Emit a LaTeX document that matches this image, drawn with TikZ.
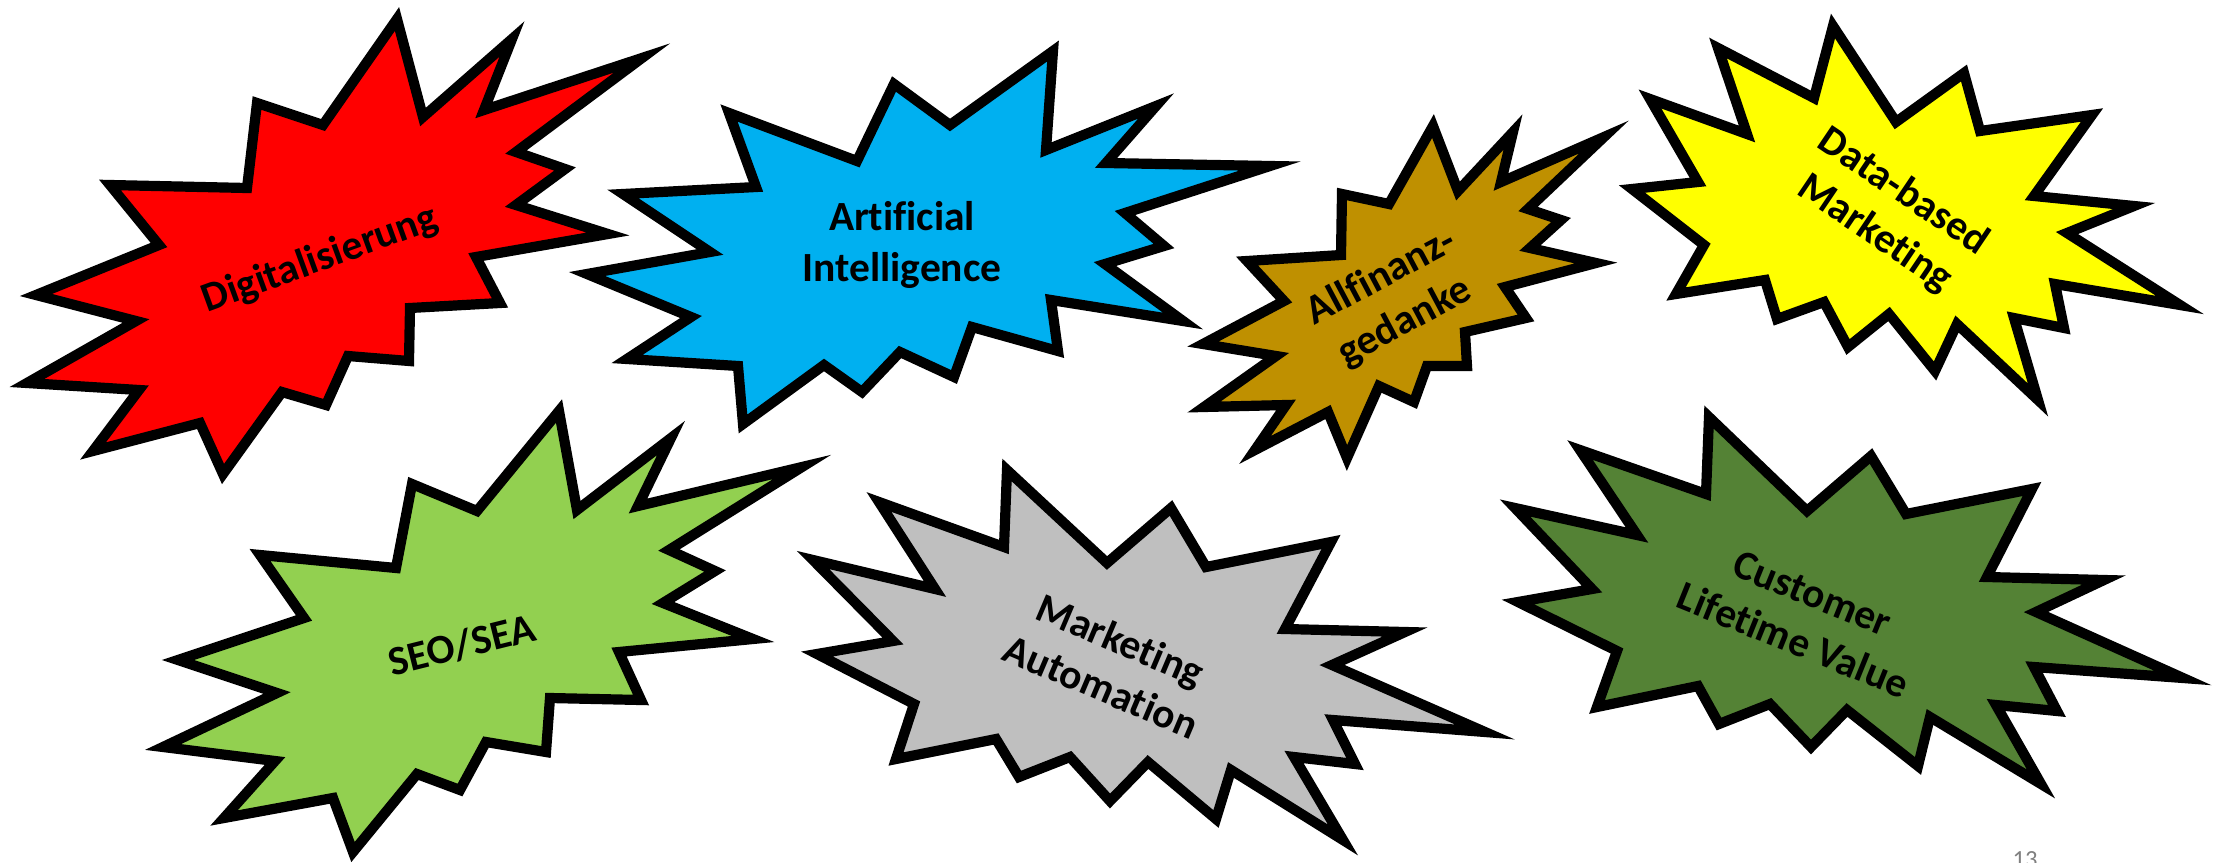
\documentclass[tikz,border=0pt]{standalone}
\usepackage{fontspec}
\setmainfont{Carlito}[Ligatures=NoCommon]
\usepackage{tikz}
\definecolor{burstred}{RGB}{255,0,0}
\definecolor{skyblue}{RGB}{0,176,240}
\definecolor{ochre}{RGB}{191,144,0}
\definecolor{lemon}{RGB}{255,255,0}
\definecolor{lightgreen}{RGB}{146,208,80}
\definecolor{silver}{RGB}{191,191,191}
\definecolor{darkgreen}{RGB}{84,130,53}
\tikzset{
    burst/.style = {draw=black, line width=2.9pt, line join=miter},
    buzz/.style = {font=\bfseries\fontsize{11.8}{14.4}\selectfont, align=center, inner sep=0pt}
}

\begin{document}
\begin{tikzpicture}[scale = 1, x=1.0cm, y=1.0cm]
\useasboundingbox (0,0) rectangle (22.13,8.62);

\draw [burst, fill=burstred] (3.97,8.43) -- (4.23,7.45) -- (5.12,8.23) -- (4.84,7.52) -- (6.42,8.04) -- (5.16,7.10) -- (5.65,6.93) -- (5.16,6.57) -- (6.08,6.28) -- (4.76,6.05) -- (5.00,5.59) -- (4.10,5.54) -- (4.09,5.01) -- (3.48,5.06) -- (3.26,4.57) -- (2.82,4.70) -- (2.23,3.88) -- (2.00,4.39) -- (0.93,4.11) -- (1.39,4.72) -- (0.27,4.79) -- (1.36,5.41) -- (0.36,5.67) -- (1.59,6.17) -- (1.10,6.77) -- (2.47,6.74) -- (2.57,7.59) -- (3.23,7.37) -- cycle;
\draw [burst, fill=skyblue] (10.53,8.11) -- (10.46,7.12) -- (11.56,7.56) -- (11.06,6.99) -- (12.70,6.96) -- (11.25,6.49) -- (11.64,6.16) -- (11.05,5.98) -- (11.83,5.41) -- (10.51,5.62) -- (10.58,5.11) -- (9.72,5.35) -- (9.54,4.85) -- (9.00,5.10) -- (8.62,4.70) -- (8.24,4.97) -- (7.43,4.38) -- (7.38,4.96) -- (6.27,5.03) -- (6.91,5.45) -- (5.87,5.88) -- (7.10,6.10) -- (6.23,6.68) -- (7.56,6.75) -- (7.29,7.49) -- (8.57,7.01) -- (8.94,7.78) -- (9.50,7.37) -- cycle;
\draw [burst, fill=ochre] (14.33,7.36) -- (14.58,6.71) -- (15.13,7.30) -- (15.01,6.80) -- (16.04,7.25) -- (15.28,6.53) -- (15.61,6.42) -- (15.30,6.14) -- (15.96,5.99) -- (15.05,5.75) -- (15.26,5.44) -- (14.65,5.30) -- (14.67,4.96) -- (14.27,4.96) -- (14.14,4.60) -- (13.79,4.76) -- (13.47,4.04) -- (13.28,4.50) -- (12.55,4.12) -- (12.86,4.57) -- (12.04,4.55) -- (12.76,5.06) -- (12.03,5.18) -- (12.84,5.61) -- (12.47,6.01) -- (13.41,6.07) -- (13.42,6.68) -- (13.89,6.58) -- cycle;
\draw [burst, fill=lemon] (18.33,8.36) -- (18.96,7.40) -- (19.64,7.89) -- (19.80,7.31) -- (20.92,7.47) -- (20.34,6.66) -- (21.34,6.56) -- (20.67,6.29) -- (21.80,5.57) -- (20.55,5.78) -- (20.64,5.34) -- (20.14,5.44) -- (20.38,4.62) -- (19.57,5.38) -- (19.35,4.91) -- (18.89,5.48) -- (18.48,5.15) -- (18.24,5.60) -- (17.77,5.43) -- (17.65,5.82) -- (16.76,5.68) -- (17.04,6.17) -- (16.32,6.73) -- (16.98,6.80) -- (16.50,7.63) -- (17.47,7.28) -- (17.18,8.14) -- (18.14,7.64) -- cycle;
\draw [burst, fill=lightgreen] (5.59,4.51) -- (5.77,3.52) -- (6.71,4.24) -- (6.38,3.56) -- (8.02,3.95) -- (6.69,3.12) -- (7.15,2.91) -- (6.63,2.59) -- (7.53,2.23) -- (6.19,2.10) -- (6.41,1.62) -- (5.50,1.64) -- (5.46,1.10) -- (4.86,1.20) -- (4.60,0.72) -- (4.17,0.88) -- (3.53,0.10) -- (3.33,0.64) -- (2.24,0.44) -- (2.75,1.01) -- (1.63,1.15) -- (2.77,1.69) -- (1.78,2.02) -- (3.04,2.44) -- (2.60,3.07) -- (3.96,2.94) -- (4.12,3.78) -- (4.77,3.51) -- cycle;
\draw [burst, fill=silver] (10.07,3.92) -- (11.07,2.99) -- (11.71,3.54) -- (12.06,2.95) -- (13.31,3.20) -- (12.85,2.33) -- (14.05,2.30) -- (13.32,1.97) -- (14.85,1.30) -- (13.33,1.42) -- (13.55,0.98) -- (12.94,1.05) -- (13.43,0.22) -- (12.31,0.92) -- (12.16,0.43) -- (11.48,1.00) -- (11.10,0.61) -- (10.70,1.05) -- (10.19,0.85) -- (9.96,1.23) -- (8.96,1.03) -- (9.14,1.58) -- (8.17,2.08) -- (8.93,2.21) -- (8.13,3.02) -- (9.35,2.73) -- (8.79,3.60) -- (10.04,3.15) -- cycle;
\draw [burst, fill=darkgreen] (17.09,4.45) -- (18.07,3.51) -- (18.71,4.06) -- (19.06,3.48) -- (20.32,3.73) -- (19.87,2.85) -- (21.04,2.82) -- (20.36,2.50) -- (21.83,1.84) -- (20.34,1.95) -- (20.57,1.51) -- (19.96,1.57) -- (20.41,0.78) -- (19.30,1.45) -- (19.18,0.96) -- (18.47,1.52) -- (18.11,1.15) -- (17.70,1.58) -- (17.19,1.38) -- (16.98,1.76) -- (15.97,1.55) -- (16.17,2.11) -- (15.18,2.60) -- (15.92,2.73) -- (15.15,3.54) -- (16.37,3.27) -- (15.80,4.12) -- (17.06,3.68) -- cycle;

\node [buzz, rotate=20] (digital) at (3.20,6.02) {Digitalisierung};
\node [buzz] (ai) at (9.02,6.17) {Artificial\\Intelligence};
\node [buzz, rotate=28] (allfinanz) at (13.93,5.62) {Allfinanz-\\gedanke};
\node [buzz, rotate=-34] (databased) at (18.89,6.49) {Data-based\\Marketing};
\node [buzz, rotate=14] (seosea) at (4.62,2.17) {SEO/SEA};
\node [buzz, rotate=-23] (automation) at (11.11,1.99) {Marketing\\Automation};
\node [buzz, rotate=-22] (clv) at (18.03,2.45) {Customer\\Lifetime Value};
\node [font=\fontsize{7}{8}\selectfont, text=gray, inner sep=0pt, anchor=north] (pagenr) at (20.25,0.11) {13};
\end{tikzpicture}
\end{document}
